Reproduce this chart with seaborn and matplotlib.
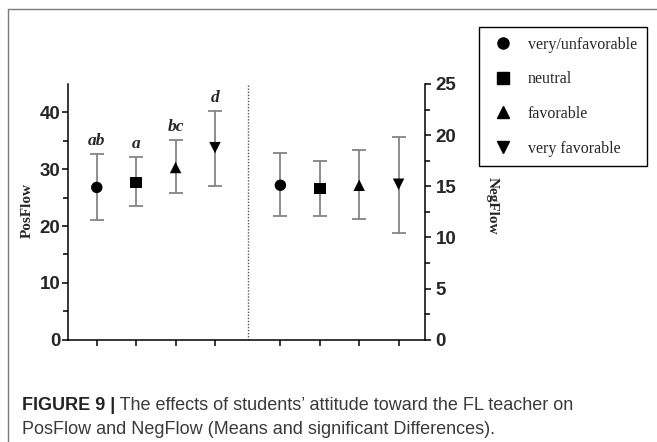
import numpy as np
import pandas as pd
import matplotlib
matplotlib.use("Agg")
import matplotlib.pyplot as plt
from matplotlib.lines import Line2D
from matplotlib.ticker import MultipleLocator, FixedLocator
import seaborn as sns

# Attitude groups and their marker shapes
groups = ["very/unfavorable", "neutral", "favorable", "very favorable"]
markers = ["o", "s", "^", "v"]

# PosFlow: means with lower / upper error limits and significance letters
pos_mean = [26.8, 27.7, 30.3, 33.8]
pos_low = [21.1, 23.5, 25.8, 27.1]
pos_high = [32.7, 32.1, 35.1, 40.3]
pos_letters = ["ab", "a", "bc", "d"]

# NegFlow: means with lower / upper error limits
neg_mean = [15.1, 14.8, 15.1, 15.2]
neg_low = [12.1, 12.1, 11.8, 10.4]
neg_high = [18.3, 17.5, 18.5, 19.8]

caption_bold = "FIGURE 9 |"
caption_rest = " The effects of students\u2019 attitude toward the FL teacher on"
caption_line2 = "PosFlow and NegFlow (Means and significant Differences)."

sns.set_theme(style="ticks")
plt.rcParams["font.family"] = ["Liberation Sans", "DejaVu Sans"]

# layout positions of the two panels along the shared x axis
pos_x = np.arange(1, 5, dtype=float)
neg_x = pos_x + 4.66
divider_x = 4.84

df_pos = pd.DataFrame({"x": pos_x, "y": pos_mean, "group": groups})
df_neg = pd.DataFrame({"x": neg_x, "y": neg_mean, "group": groups})
marker_map = dict(zip(groups, markers))

fig = plt.figure(figsize=(6.57, 4.42), dpi=100)
ax = fig.add_axes([68 / 657, 1 - 339.7 / 442, (425 - 68) / 657, (339.7 - 84) / 442])
ax2 = ax.twinx()

err_kw = dict(fmt="none", ecolor="#858585", elinewidth=1.3, capsize=4.8, capthick=1.3, zorder=2)

ax.errorbar(pos_x, pos_mean,
            yerr=[np.subtract(pos_mean, pos_low), np.subtract(pos_high, pos_mean)], **err_kw)
sns.scatterplot(data=df_pos, x="x", y="y", style="group", markers=marker_map,
                color="black", s=68, edgecolor="black", linewidth=0, legend=False, ax=ax, zorder=3)

ax2.errorbar(neg_x, neg_mean,
             yerr=[np.subtract(neg_mean, neg_low), np.subtract(neg_high, neg_mean)], **err_kw)
sns.scatterplot(data=df_neg, x="x", y="y", style="group", markers=marker_map,
                color="black", s=68, edgecolor="black", linewidth=0, legend=False, ax=ax2, zorder=3)

# significance letters above the PosFlow error bars
for x, top, lab in zip(pos_x, pos_high, pos_letters):
    ax.annotate(lab, (x, top), xytext=(0, 9.5), textcoords="offset points",
                ha="center", va="center", fontsize=12.5, fontstyle="italic",
                fontweight="bold", family="Liberation Serif")

# dotted divider between the two outcome panels
ax.axvline(divider_x, color="#555555", linestyle=(0, (1, 1.2)), linewidth=1.0, zorder=1)

ax.set_xlim(0.27, 9.33)
ax.set_ylim(0, 45)
ax2.set_ylim(0, 25)

ax.yaxis.set_major_locator(FixedLocator([0, 10, 20, 30, 40]))
ax.yaxis.set_minor_locator(FixedLocator([5, 15, 25, 35]))
ax2.yaxis.set_major_locator(MultipleLocator(5))
ax2.yaxis.set_minor_locator(MultipleLocator(2.5))
ax.set_xticks(np.concatenate([pos_x, neg_x]))
ax.set_xticklabels([])

for a in (ax, ax2):
    a.set_xlabel("")
    a.set_ylabel("")
    a.grid(False)
    a.set_facecolor("none")
    for s in a.spines.values():
        s.set_linewidth(1.1)
        s.set_color("black")

ax.spines["top"].set_visible(False)
ax.spines["right"].set_visible(False)
ax2.spines["top"].set_visible(False)
ax2.spines["left"].set_visible(False)
ax2.spines["bottom"].set_visible(False)

ax.tick_params(axis="y", which="major", length=4, width=1.1, pad=1.5,
               labelsize=13.5, color="black")
ax.tick_params(axis="y", which="minor", length=3.5, width=1.1, color="black")
ax.tick_params(axis="x", which="major", length=4.5, width=1.1, color="black")
ax2.tick_params(axis="y", which="major", length=4.5, width=1.1, pad=3,
                labelsize=13.5, color="black")
ax2.tick_params(axis="y", which="minor", length=3.5, width=1.1, color="black")
for lab in ax.get_yticklabels() + ax2.get_yticklabels():
    lab.set_fontweight("bold")

# axis titles
fig.text(27.5 / 657, 1 - 210 / 442, "PosFlow", rotation=90, ha="center", va="center",
         fontsize=11, fontweight="bold", family="Liberation Serif")
fig.text(492 / 657, 1 - 206 / 442, "NegFlow", rotation=-90, ha="center", va="center",
         fontsize=11, fontweight="bold", family="Liberation Serif")

# legend of attitude groups
handles = [Line2D([], [], marker=m, color="black", linestyle="none", markersize=8)
           for m in markers]
leg = fig.legend(handles, groups, loc="upper left", bbox_to_anchor=(479 / 657, 1 - 27 / 442),
                 frameon=True, fancybox=False, edgecolor="black", framealpha=1,
                 prop={"family": "Liberation Serif", "size": 11.5},
                 borderpad=0.6, labelspacing=1.17, handlelength=1.8, handletextpad=0.66,
                 borderaxespad=0)
leg.get_frame().set_linewidth(1.0)

# outer figure frame (left and top edges)
fig.add_artist(Line2D([8 / 657, 8 / 657], [0, 1 - 9 / 442], color="#7a7a7a", linewidth=1.0,
                      transform=fig.transFigure))
fig.add_artist(Line2D([8 / 657, 1], [1 - 9 / 442, 1 - 9 / 442], color="#7a7a7a", linewidth=1.0,
                      transform=fig.transFigure))

# caption
cap_size = 13
t1 = fig.text(22 / 657, 1 - 405 / 442, caption_bold, ha="left", va="center",
              fontsize=cap_size, fontweight="bold", color="#222222")
fig.canvas.draw()
bb = t1.get_window_extent()
fig.text(bb.x1 / fig.bbox.width, 1 - 405 / 442, caption_rest, ha="left", va="center",
         fontsize=cap_size, color="#3a3a3a")
fig.text(22 / 657, 1 - 429 / 442, caption_line2, ha="left", va="center",
         fontsize=cap_size, color="#3a3a3a")

fig.savefig("out.png", dpi=100)
